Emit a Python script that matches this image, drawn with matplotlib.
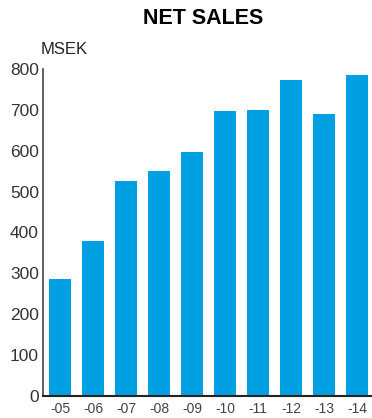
import matplotlib.pyplot as plt

years = ['-05', '-06', '-07', '-08', '-09', '-10', '-11', '-12', '-13', '-14']
sales = [286, 379, 526, 550, 597, 697, 699, 773, 690, 785]
yticks = [0, 100, 200, 300, 400, 500, 600, 700, 800]

plt.rcParams['font.family'] = ['Liberation Sans', 'DejaVu Sans']

fig = plt.figure(figsize=(3.72, 4.18), dpi=100)
ax = fig.add_axes([43/372, 22/418, 329/372, 327/418])

x = range(len(years))
ax.bar(x, sales, width=0.667, color='#00a0e3', zorder=2)

ax.set_xlim(-0.515, 9.45)
ax.set_ylim(0, 800)
ax.set_yticks(yticks)
ax.set_xticks(list(x))
ax.set_xticklabels(years, fontsize=10, color='#444444')
ax.set_yticklabels([str(v) for v in yticks], fontsize=12.5, color='#333333')
ax.tick_params(length=0, pad=3)
ax.tick_params(axis='x', pad=4)

for s in ['top', 'right']:
    ax.spines[s].set_visible(False)
ax.spines['left'].set_color('#444444')
ax.spines['bottom'].set_color('#222222')
ax.spines['left'].set_linewidth(1.2)
ax.spines['bottom'].set_linewidth(1.5)

# title and unit label
fig.text(0.547, 1 - 18/418, 'NET SALES', ha='center', va='center', fontsize=15.5, fontweight='bold')
fig.text(41/372, 1 - 50/418, 'MSEK', ha='left', va='center', fontsize=12, color='#222222')

fig.savefig('out.png', dpi=100)
